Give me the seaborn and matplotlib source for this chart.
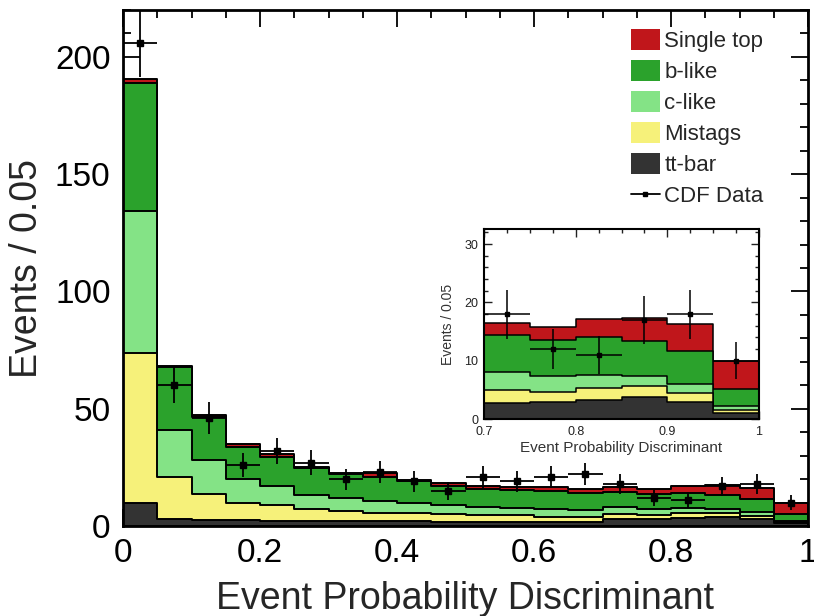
import numpy as np
import pandas as pd
import seaborn as sns
import matplotlib.pyplot as plt
from matplotlib.patches import Patch
from matplotlib.lines import Line2D
from matplotlib.ticker import MultipleLocator

# bins of the discriminant, 20 x 0.05
edges = np.linspace(0, 1, 21)
centers = (edges[:-1] + edges[1:]) / 2

# expected yields per bin
ttbar = [10.0, 3.1, 2.6, 2.4, 2.3, 2.1, 2.3, 2.2, 2.1, 1.6,
         1.9, 1.9, 1.9, 1.9, 2.8, 3.0, 3.3, 3.7, 3.0, 1.1]
mistags = [63.7, 17.9, 10.9, 7.6, 6.7, 5.0, 4.2, 3.4, 3.3, 3.4,
           2.8, 2.8, 2.1, 2.1, 2.2, 1.7, 2.1, 2.0, 1.4, 0.5]
c_like = [60.7, 19.9, 14.6, 10.0, 8.0, 6.1, 5.6, 5.2, 4.3, 4.0,
          3.5, 3.1, 3.2, 2.8, 3.0, 2.6, 2.2, 1.7, 1.6, 0.7]
b_like = [54.6, 26.7, 18.2, 13.8, 12.3, 11.4, 10.2, 10.2, 9.3, 8.1,
          7.4, 7.5, 7.8, 7.4, 6.4, 6.2, 6.4, 5.9, 5.7, 2.9]
single_top = [1.5, 0.5, 1.0, 1.2, 1.4, 0.7, 0.4, 1.4, 0.6, 1.4,
              1.4, 1.5, 1.5, 1.4, 2.1, 2.2, 3.1, 4.0, 4.6, 4.8]

# CDF data
cdf_data = [206, 60, 46, 26, 32, 27, 20, 23, 19, 15,
            21, 19, 21, 22, 18, 12, 11, 17, 18, 10]
cdf_err = [14.4, 7.7, 6.8, 5.1, 5.7, 5.2, 4.5, 4.8, 4.4, 3.9,
           4.6, 4.4, 4.6, 4.7, 4.2, 3.5, 3.3, 4.1, 4.2, 3.2]

stack_order = ["tt-bar", "Mistags", "c-like", "b-like", "Single top"]
colors = {
    "Single top": "#c0161b",
    "b-like": "#2ba22c",
    "c-like": "#84e386",
    "Mistags": "#f6f17a",
    "tt-bar": "#333333",
}

df = pd.DataFrame({
    "center": centers,
    "tt-bar": ttbar,
    "Mistags": mistags,
    "c-like": c_like,
    "b-like": b_like,
    "Single top": single_top,
    "data": cdf_data,
    "err": cdf_err,
})
# cumulative stack heights
stacked = df[stack_order].cumsum(axis=1)
stacked["center"] = df["center"]

sns.set_style("ticks")
plt.rcParams["font.family"] = ["Liberation Sans", "DejaVu Sans"]

fig = plt.figure(figsize=(8.14, 6.16), dpi=100)
ax = fig.add_axes([123 / 814, 1 - 526 / 616, 685 / 814, 516 / 616])
ax_in = fig.add_axes([484 / 814, 1 - 419 / 616, 275 / 814, 190 / 616])


def draw_stack(a, lw):
    # draw cumulative sums from the top down so each layer sits on the next
    for name in reversed(stack_order):
        sns.histplot(data=stacked, x="center", weights=name, binwidth=0.05,
                     binrange=(0, 1), element="step", fill=True,
                     color=colors[name], alpha=1, edgecolor="black",
                     linewidth=lw, ax=a)


draw_stack(ax, 1.4)
ax.errorbar(df["center"], df["data"], xerr=0.025, yerr=df["err"], fmt="s",
            color="black", ms=4, elinewidth=1.3, capsize=0, zorder=5)

ax.set_xlim(0, 1)
ax.set_ylim(0, 220)
ax.xaxis.set_major_locator(MultipleLocator(0.2))
ax.xaxis.set_minor_locator(MultipleLocator(0.05))
ax.yaxis.set_major_locator(MultipleLocator(50))
ax.yaxis.set_minor_locator(MultipleLocator(10))
ax.tick_params(which="both", direction="in", top=True, right=True, width=1.3,
               labelsize=24, colors="black")
ax.tick_params(which="major", length=12, pad=9)
ax.tick_params(which="minor", length=6)
ax.xaxis.set_major_formatter(plt.FuncFormatter(lambda v, p: f"{v:g}"))
for s in ax.spines.values():
    s.set_linewidth(2)
    s.set_color("black")
    s.set_visible(True)
ax.set_xlabel("Event Probability Discriminant", fontsize=27, labelpad=8)
ax.set_ylabel("Events / 0.05", fontsize=27, labelpad=7)

handles = [Patch(facecolor=colors[n], edgecolor="none") for n in reversed(stack_order)]
handles.append(Line2D([], [], color="black", marker="s", ms=3, lw=1.3))
labels = list(reversed(stack_order)) + ["CDF Data"]
ax.legend(handles, labels, loc="upper left", frameon=False, fontsize=16,
          bbox_to_anchor=(631 / 814, 1 - 29 / 616), bbox_transform=fig.transFigure,
          borderpad=0, borderaxespad=0, handlelength=1.3, handleheight=1.05,
          labelspacing=0.37, handletextpad=0.2)

# inset: zoom on the signal region
draw_stack(ax_in, 1.1)
sel = df["center"] > 0.7
ax_in.errorbar(df.loc[sel, "center"], df.loc[sel, "data"], xerr=0.025,
               yerr=df.loc[sel, "err"], fmt="s", color="black", ms=3.5,
               elinewidth=1.1, capsize=0, zorder=5)
ax_in.set_xlim(0.7, 1)
ax_in.set_ylim(0, 32.6)
ax_in.xaxis.set_major_locator(MultipleLocator(0.1))
ax_in.xaxis.set_minor_locator(MultipleLocator(0.025))
ax_in.yaxis.set_major_locator(MultipleLocator(10))
ax_in.yaxis.set_minor_locator(MultipleLocator(2))
ax_in.xaxis.set_major_formatter(plt.FuncFormatter(lambda v, p: f"{v:g}"))
ax_in.tick_params(which="both", direction="in", top=True, right=True, width=1,
                  labelsize=9, colors="#222222")
ax_in.tick_params(axis="x", pad=5)
ax_in.tick_params(axis="y", pad=4)
ax_in.tick_params(which="major", length=6)
ax_in.tick_params(which="minor", length=3)
for s in ax_in.spines.values():
    s.set_linewidth(1.5)
    s.set_color("black")
    s.set_visible(True)
ax_in.set_xlabel("Event Probability Discriminant", fontsize=11, color="#333333", labelpad=2)
ax_in.set_ylabel("Events / 0.05", fontsize=10, color="#333333", labelpad=7)

fig.savefig("out.png", dpi=100)
